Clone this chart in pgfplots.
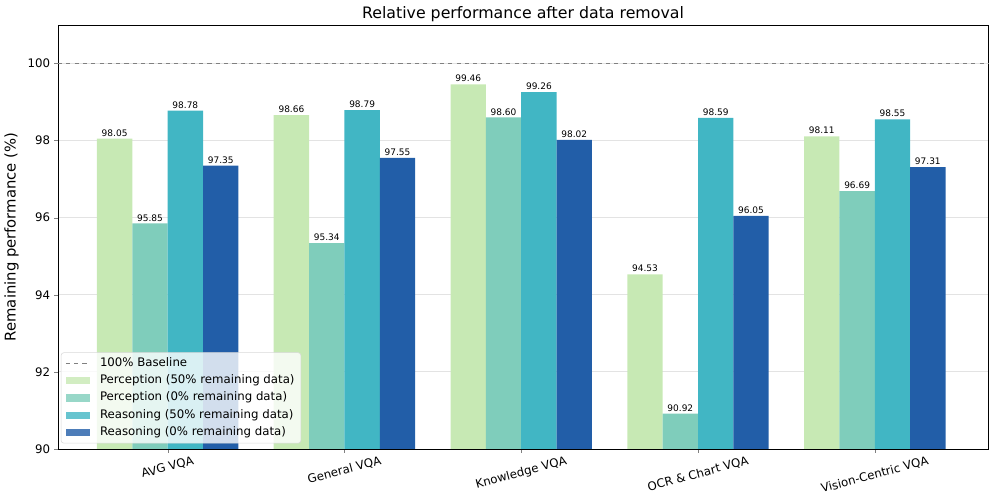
\documentclass[border=0pt]{standalone}
\usepackage{pgfplots}
\pgfplotsset{compat=1.18}
\usepackage{graphicx}
\usepackage{fontspec}
\setmainfont{DejaVu Sans}
\definecolor{c1}{HTML}{C7E9B4}
\definecolor{c2}{HTML}{7FCDBB}
\definecolor{c3}{HTML}{41B6C4}
\definecolor{c4}{HTML}{225EA8}
\newcommand\rl[1]{\rotatebox{15}{#1}}
\begin{document}
\begin{tikzpicture}
\begin{axis}[
  scale only axis,
  width=669.6bp, height=305.3bp,
  ybar=0pt, bar width=0.2,
  xmin=-0.62, xmax=4.64,
  ymin=90, ymax=101,
  ytick={90,92,94,96,98,100},
  xtick={0,1,2,3,4},
  xticklabels={\rl{AVG VQA}, \rl{General VQA}, \rl{Knowledge VQA}, \rl{OCR \& Chart VQA}, \rl{Vision-Centric VQA}},
  x tick label style={anchor=north, font=\fontsize{8.5}{10}\selectfont, inner sep=0pt, yshift=-2bp},
  y tick label style={font=\fontsize{8.5}{10}\selectfont, inner sep=0pt, xshift=-3bp},
  /pgf/number format/assume math mode=true,
  tick align=outside, xtick pos=bottom, ytick pos=left,
  major tick length=2.6bp,
  axis line style={line width=0.6bp},
  ymajorgrids, major grid style={gray!22, line width=0.6bp},
  title={Relative performance after data removal},
  title style={font=\fontsize{11.4}{13}\selectfont, at={(axis description cs:0.5,1)}, anchor=base, yshift=-1.5bp},
  ylabel={Remaining performance (\%)},
  ylabel style={font=\fontsize{10.7}{12}\selectfont, at={(axis description cs:-0.05,0.5)}, anchor=center},
  nodes near coords,
  nodes near coords style={font=\fontsize{6.5}{7}\selectfont, inner sep=1.5bp, /pgf/number format/.cd, fixed, fixed zerofill, precision=2, assume math mode=true},
  legend style={at={(0.003,0.013)}, anchor=south west, font=\fontsize{8.5}{10}\selectfont, draw=gray!30, fill=white, fill opacity=0.8, text opacity=1, rounded corners=2pt, inner xsep=3bp, inner ysep=2bp, row sep=1.3bp,
    nodes={inner sep=1.5bp, text height=6.3bp, text depth=1.9bp},
    /tikz/every even column/.append style={column sep=2bp},
    /tikz/every odd column/.append style={column sep=5.5bp}},
  legend cell align=left,
  legend image code/.code={\draw[#1, draw=none, sharp corners] (0bp,-2.6bp) rectangle (17.3bp,2.6bp);},
  extra y ticks={100}, extra y tick labels={},
  extra y tick style={major tick length=0pt, grid=major, major grid style={dashed, gray, line width=0.7bp}},
  clip=true,
]
\addlegendimage{legend image code/.code={\draw[gray, dashed, line width=0.7bp, sharp corners] (0bp,0bp) -- (17.3bp,0bp);}}
\addlegendentry{100\% Baseline}
\addplot[fill=c1, draw=none] coordinates {(0,98.05) (1,98.66) (2,99.46) (3,94.53) (4,98.11)};
\addlegendentry{Perception (50\% remaining data)}
\addplot[fill=c2, draw=none] coordinates {(0,95.85) (1,95.34) (2,98.60) (3,90.92) (4,96.69)};
\addlegendentry{Perception (0\% remaining data)}
\addplot[fill=c3, draw=none] coordinates {(0,98.78) (1,98.79) (2,99.26) (3,98.59) (4,98.55)};
\addlegendentry{Reasoning (50\% remaining data)}
\addplot[fill=c4, draw=none] coordinates {(0,97.35) (1,97.55) (2,98.02) (3,96.05) (4,97.31)};
\addlegendentry{Reasoning (0\% remaining data)}
\coordinate (bl) at (rel axis cs:0,0);
\coordinate (tr) at (rel axis cs:1,1);
\end{axis}
\pgfresetboundingbox
\path[use as bounding box] ([xshift=-41.8bp, yshift=-32.4bp]bl) rectangle ([xshift=5.8bp, yshift=18bp]tr);
\end{tikzpicture}
\end{document}
